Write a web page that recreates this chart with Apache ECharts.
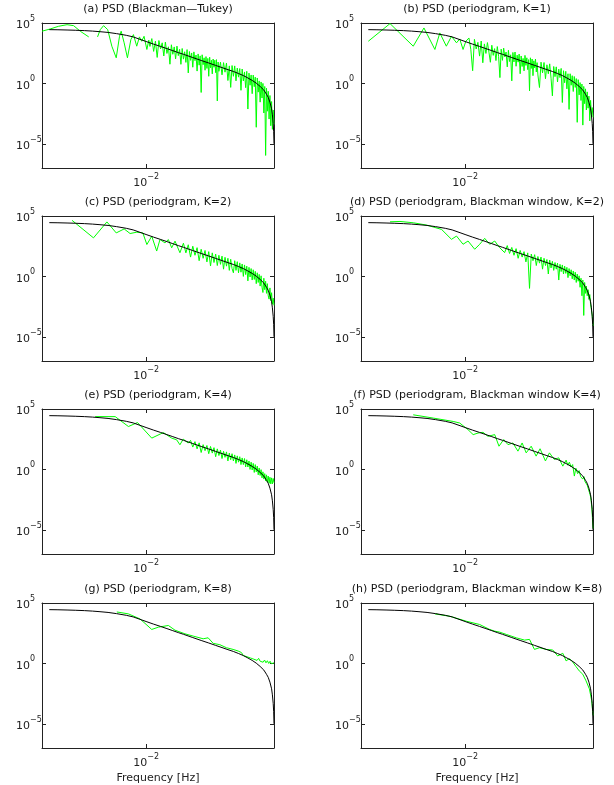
<!DOCTYPE html>
<html>
<head>
<meta charset="utf-8">
<title>PSD estimates</title>
<style>
  html, body { margin: 0; padding: 0; background: #fff; }
  #main { width: 614px; height: 785px; }
</style>
</head>
<body>
<div id="main"></div>
<script src="https://cdn.jsdelivr.net/npm/echarts@6/dist/echarts.min.js"></script>
<script>
// all series are [frequency in Hz, log10 of the PSD]; null = gap in the line

// true PSD (black), same in every panel
var truePsd = [
  [0.00296,4.45],[0.0033,4.44],[0.0037,4.42],[0.0041,4.40],[0.0046,4.37],[0.0051,4.33],[0.0056,4.28],
  [0.0062,4.22],[0.0069,4.12],[0.0078,3.98],[0.0085,3.85],[0.0095,3.59],[0.0100,3.47],[0.0110,3.25],
  [0.0120,3.06],[0.0130,2.88],[0.0140,2.71],[0.0150,2.55],[0.0160,2.41],[0.0180,2.14],[0.0200,1.90],
  [0.0220,1.69],[0.0240,1.49],[0.0260,1.31],[0.0280,1.14],[0.0300,0.99],[0.0320,0.82],[0.0340,0.65],
  [0.0360,0.45],[0.0380,0.25],[0.0400,0.02],[0.0420,-0.25],[0.0440,-0.55],[0.0455,-0.90],[0.0465,-1.15],
  [0.0475,-1.55],[0.0485,-2.1],[0.0490,-2.6],[0.0495,-3.3],[0.0498,-4.0],[0.0500,-5.0]
];

// (a) Blackman-Tukey
var estA = [
  [0.0027,4.32],[0.0030,4.51],[0.00333,4.73],[0.0037,4.86],[0.00402,4.78],[0.00437,4.32],[0.00486,3.85],
  [0.0051,null],[0.00543,3.85],[0.00562,4.45],[0.00586,4.78],[0.00617,4.45],[0.0065,3.08],[0.00687,2.12],
  [0.00716,3.90],[0.00731,4.32],[0.00759,3.36],[0.00791,2.12],[0.00826,3.63],[0.00853,4.04],[0.00889,3.08],
  [0.0092,3.85],[0.00946,3.49],[0.00975,3.90],[0.0101,2.81],[0.01035,3.58],
  [0.01050,3.06],[0.01075,3.71],[0.01100,2.65],[0.01125,3.50],[0.01150,2.15],[0.01175,3.55],[0.01200,2.86],
  [0.01225,3.36],[0.01250,2.27],[0.01275,3.42],[0.01300,2.48],[0.01325,3.03],[0.01350,1.59],[0.01375,3.20],
  [0.01400,2.41],[0.01425,3.02],[0.01450,2.03],[0.01475,3.09],[0.01500,2.30],[0.01525,2.82],[0.01550,1.58],
  [0.01575,2.89],[0.01600,2.01],[0.01625,2.62],[0.01650,1.74],[0.01675,2.80],[0.01700,0.87],[0.01725,2.64],
  [0.01750,1.91],[0.01775,2.52],[0.01800,1.34],[0.01825,2.61],[0.01850,1.88],[0.01875,2.35],[0.01900,1.02],
  [0.01925,2.44],[0.01950,1.51],[0.01975,2.28],[0.02000,-0.75],[0.02025,2.37],[0.02050,1.55],[0.02075,2.12],
  [0.02100,1.09],[0.02125,2.22],[0.02150,1.24],[0.02175,2.07],[0.02200,0.59],[0.02225,2.17],[0.02250,1.29],
  [0.02275,1.92],[0.02300,0.79],[0.02325,2.02],[0.02350,1.34],[0.02375,1.92],[0.02400,0.89],[0.02425,1.97],
  [0.02450,-1.45],[0.02475,1.77],[0.02500,1.00],
  [0.0255,1.76],[0.0260,0.71],[0.0265,1.72],[0.0270,0.93],[0.0275,1.69],[0.0280,0.24],[0.0285,1.45],[0.0290,-0.33],
  [0.0295,1.48],[0.0300,0.59],[0.0305,1.45],[0.0310,0.21],[0.0315,1.27],[0.0320,0.52],[0.0325,1.23],[0.0330,-0.57],
  [0.0335,1.19],[0.0340,0.20],[0.0345,0.95],[0.0350,-0.35],[0.0355,1.00],[0.0360,-2.12],[0.0365,0.85],[0.0370,-0.15],
  [0.0375,0.70],[0.0380,-0.85],[0.0385,0.69],[0.0390,-0.27],[0.0395,0.52],[0.0400,-3.63],[0.0405,0.45],[0.0410,-0.72],
  [0.0415,0.21],[0.0420,-1.55],[0.0425,0.12],[0.0430,-1.21],[0.0435,0.00],[0.0440,-2.45],[0.0445,-0.25],[0.0450,-5.96],
  [0.0455,-0.40],[0.0460,-2.3],[0.0465,-0.65],[0.0470,-2.95],[0.0475,-1.0],[0.0480,-3.5],[0.0485,-1.5],[0.0490,-3.8],
  [0.0495,-2.2],[0.0500,-3.4]
];

// (b) periodogram, K=1
var estB = [
  [0.00296,3.49],[0.00389,4.95],[0.00521,3.08],[0.00596,4.59],[0.00684,2.81],[0.00728,4.18],[0.0079,3.08],
  [0.00843,3.9],[0.00898,3.36],[0.00935,3.68],[0.00975,2.81],[0.0101,3.49],
  [0.01050,3.76],[0.01075,2.81],[0.01100,1.05],[0.01125,3.65],[0.01150,2.85],[0.01175,3.40],[0.01200,2.26],
  [0.01225,3.51],[0.01250,1.71],[0.01275,3.27],[0.01300,2.48],[0.01325,3.38],[0.01350,2.59],[0.01375,1.75],
  [0.01400,3.16],[0.01425,2.32],[0.01450,2.88],[0.01475,1.89],[0.01500,3.05],[0.01525,2.22],[0.01550,0.48],
  [0.01575,2.84],[0.01600,1.91],[0.01625,2.92],[0.01650,2.19],[0.01675,2.60],[0.01700,1.37],[0.01725,2.74],
  [0.01750,1.81],[0.01775,2.37],[0.01800,0.21],[0.01825,2.56],[0.01850,1.78],[0.01875,2.60],[0.01900,1.42],
  [0.01925,2.34],[0.01950,1.76],[0.01975,2.43],[0.02000,0.80],[0.02025,2.27],[0.02050,1.40],[0.02075,2.07],
  [0.02100,1.04],[0.02125,2.32],[0.02150,1.49],[0.02175,2.12],[0.02200,1.14],[0.02225,1.97],[0.02250,-0.62],
  [0.02275,2.12],[0.02300,1.24],[0.02325,2.02],[0.02350,0.64],[0.02375,1.87],[0.02400,1.29],[0.02425,2.02],
  [0.02450,0.95],[0.02475,1.72],[0.02500,0.70],
  [0.0255,-0.34],[0.0260,1.76],[0.0265,0.87],[0.0270,1.73],[0.0275,0.39],[0.0280,1.54],[0.0285,0.80],[0.0290,1.62],
  [0.0295,0.43],[0.0300,-1.03],[0.0305,1.40],[0.0310,0.56],[0.0315,1.37],[0.0320,0.12],[0.0325,1.18],[0.0330,0.48],
  [0.0335,1.24],[0.0340,-1.58],[0.0345,1.05],[0.0350,0.05],[0.0355,1.00],[0.0360,-0.45],[0.0365,0.80],[0.0370,-2.15],
  [0.0375,0.80],[0.0380,-0.15],[0.0385,0.64],[0.0390,-0.67],[0.0395,0.57],[0.0400,-0.33],[0.0405,0.40],[0.0410,-3.22],
  [0.0415,0.31],[0.0420,-0.95],[0.0425,0.07],[0.0430,-1.41],[0.0435,-0.05],[0.0440,-3.45],[0.0445,-0.25],[0.0450,-1.68],
  [0.0455,-0.45],[0.0460,-2.2],[0.0465,-0.70],[0.0470,-2.05],[0.0475,-1.05],[0.0480,-3.1],[0.0485,-1.4],[0.0490,-2.6],
  [0.0495,-2.0],[0.0500,-2.8]
];

// (c) periodogram, K=2
var estC = [
  [0.00394,4.64],[0.00516,3.19],[0.00611,4.51],[0.00687,3.60],[0.00759,3.93],[0.00818,3.55],[0.00889,3.66],
  [0.0096,3.60],[0.0101,2.64],[0.01074,3.33],[0.01143,2.10],[0.01191,3.05],[0.01268,2.78],[0.01324,3.05],
  [0.0138,2.37],[0.01439,2.92],[0.01531,1.96],
  [0.0160,2.75],[0.0165,1.95],[0.0170,2.62],[0.0175,1.6],[0.0180,2.5],[0.0185,1.75],[0.0190,2.38],[0.0195,1.3],
  [0.0200,2.25],[0.0205,1.5],[0.0210,2.15],[0.0215,1.2],[0.0220,2.05],[0.0225,0.86],[0.0230,1.95],[0.0235,1.15],
  [0.0240,1.85],[0.0245,0.9],[0.0250,1.75],[0.0255,1.0],[0.0260,1.68],[0.0265,0.6],[0.0270,1.58],[0.0275,0.85],
  [0.0280,1.5],[0.0285,0.5],[0.0290,1.42],[0.0295,0.65],[0.0300,0.3],[0.0305,1.3],[0.0310,0.5],[0.0315,1.22],
  [0.0320,0.3],[0.0325,1.12],[0.0330,0.35],[0.0335,1.03],[0.0340,0.0],[0.0345,0.95],[0.0350,0.15],[0.0355,0.85],
  [0.0360,-0.37],[0.0365,0.75],[0.0370,-0.05],[0.0375,0.65],[0.0380,-0.3],[0.0385,0.55],[0.0390,-0.25],[0.0395,0.42],
  [0.0400,-0.6],[0.0405,0.3],[0.0410,-0.5],[0.0415,0.17],[0.0420,-0.8],[0.0425,0.05],[0.0430,-0.9],[0.0435,-1.33],
  [0.0440,-0.15],[0.0445,-1.1],[0.0450,-0.4],[0.0455,-1.4],[0.0460,-0.6],[0.0465,-1.6],[0.0470,-1.88],[0.0475,-0.95],
  [0.0480,-2.0],[0.0485,-1.35],[0.0490,-2.3],[0.0495,-1.8],[0.0500,-2.4]
];

// (d) periodogram, Blackman window, K=2
var estD = [
  [0.00389,4.52],[0.00441,4.55],[0.00521,4.44],[0.00616,4.25],[0.00744,3.89],[0.00843,3.07],[0.00898,3.34],
  [0.00975,2.66],[0.01038,2.93],[0.01129,2.25],[0.01202,2.66],[0.0128,3.15],[0.01363,2.66],[0.01452,2.93],
  [0.01545,2.38],[0.01645,1.97],
  [0.0170,2.55],[0.0175,1.9],[0.0180,2.4],[0.0185,1.75],[0.0190,2.3],[0.0195,1.5],[0.0200,2.15],[0.0205,1.6],
  [0.0210,2.05],[0.0215,1.2],[0.0220,1.95],[0.0225,-0.99],[0.0230,1.85],[0.0235,1.3],[0.0240,1.8],[0.0245,0.9],
  [0.0250,1.65],[0.0255,1.1],[0.0260,1.6],[0.0265,0.6],[0.0270,1.5],[0.0275,0.9],[0.0280,1.4],[0.0285,0.2],
  [0.0290,1.35],[0.0295,0.7],[0.0300,1.25],[0.0305,0.5],[0.0310,1.15],[0.0315,0.6],[0.0320,1.1],[0.0325,-0.3],
  [0.0330,1.0],[0.0335,0.4],[0.0340,0.95],[0.0345,0.2],[0.0350,0.85],[0.0355,0.25],[0.0360,0.75],[0.0365,-0.1],
  [0.0370,0.65],[0.0375,0.05],[0.0380,0.55],[0.0385,-0.2],[0.0390,0.45],[0.0395,-0.3],[0.0400,0.35],[0.0405,-0.5],
  [0.0410,0.2],[0.0415,-0.4],[0.0420,0.05],[0.0425,-0.9],[0.0430,-0.15],[0.0435,-1.6],[0.0440,-0.3],[0.0445,-3.23],
  [0.0450,-0.5],[0.0455,-1.4],[0.0460,-0.8],[0.0465,-1.6],[0.0470,-1.1],[0.0475,-1.9],[0.0480,-1.5],[0.0485,-2.3],
  [0.0490,-2.4],[0.0495,-3.2],[0.0500,-4.1]
];

// (e) periodogram, K=4
var estE = [
  [0.00527,4.37],[0.00678,4.37],[0.00801,3.55],[0.00898,3.88],[0.01074,2.59],[0.01242,3.05],[0.0138,2.59],
  [0.01469,2.45],[0.01531,2.04],[0.01596,2.51],[0.01698,2.18],
  [0.0175,2.4],[0.0180,1.85],[0.0185,2.3],[0.0190,1.7],[0.0195,2.2],[0.0200,1.4],[0.0205,2.05],[0.0210,1.55],
  [0.0215,1.98],[0.0220,1.3],[0.0225,1.9],[0.0230,1.35],[0.0235,1.8],[0.0240,1.05],[0.0245,1.7],[0.0250,1.15],
  [0.0255,1.6],[0.0260,0.9],[0.0265,1.5],[0.0270,1.0],[0.0275,1.45],[0.0280,0.7],[0.0285,1.35],[0.0290,0.8],
  [0.0295,1.3],[0.0300,0.7],[0.0305,1.2],[0.0310,0.5],[0.0315,1.12],[0.0320,0.6],[0.0325,1.05],[0.0330,0.4],
  [0.0335,0.95],[0.0340,0.4],[0.0345,0.9],[0.0350,0.2],[0.0355,0.8],[0.0360,0.2],[0.0365,0.7],[0.0370,0.0],
  [0.0375,0.6],[0.0380,-0.05],[0.0385,0.5],[0.0390,-0.25],[0.0395,0.4],[0.0400,-0.2],[0.0405,0.28],[0.0410,-0.45],
  [0.0415,0.12],[0.0420,-0.5],[0.0425,-0.02],[0.0430,-0.7],[0.0435,-0.2],[0.0440,-0.8],[0.0445,-0.35],[0.0450,-0.95],
  [0.0455,-0.45],[0.0460,-1.05],[0.0465,-0.55],[0.0470,-1.15],[0.0475,-0.65],[0.0480,-1.2],[0.0485,-0.7],[0.0490,-1.2],
  [0.0495,-0.75],[0.0500,-1.1]
];

// (f) periodogram, Blackman window, K=4
var estF = [
  [0.00521,4.52],[0.0067,4.25],[0.00861,3.97],[0.00935,3.84],[0.01038,3.29],[0.01107,2.88],[0.01178,3.01],
  [0.01253,3.07],[0.01334,2.74],[0.01452,2.88],[0.01532,1.92],[0.01626,2.47],[0.01716,2.05],[0.01825,2.19],
  [0.01945,1.51],[0.0205,2.19],[0.02158,1.37],[0.02297,1.92],[0.02445,1.10],[0.02569,1.71],[0.02748,0.70],
  [0.0289,1.37],[0.03076,0.82],[0.03248,0.96],[0.0342,0.27],[0.03565,0.77],[0.0364,0.35],[0.03715,0.6],
  [0.03793,0.2],[0.0387,0.4],[0.03954,-0.55],[0.0403,0.1],[0.0412,-0.35],[0.0420,-0.1],[0.0428,-0.6],
  [0.0436,-0.45],[0.04395,-0.8],[0.0446,-0.6],[0.0452,-1.0],[0.0458,-0.85],[0.0465,-1.3],[0.0472,-1.4],
  [0.0478,-1.9],[0.0486,-2.3],[0.0493,-3.2],[0.0500,-4.9]
];

// (g) periodogram, K=8
var estG = [
  [0.00692,4.26],[0.00801,4.10],[0.00927,3.68],[0.01074,2.81],[0.01167,3.0],[0.01324,3.14],[0.01439,2.75],
  [0.01631,2.45],[0.01811,2.26],[0.02051,2.04],[0.02183,2.12],[0.02327,1.66],[0.0253,1.55],[0.02749,1.30],
  [0.02987,1.16],[0.03182,1.03],[0.0332,0.90],[0.0340,0.65],[0.0348,0.78],[0.0356,0.55],[0.0364,0.68],
  [0.0372,0.45],[0.0380,0.58],[0.0388,0.35],[0.0396,0.50],[0.0404,0.25],[0.0412,0.42],[0.0420,0.18],
  [0.0428,0.33],[0.0436,0.10],[0.0444,0.28],[0.0452,0.05],[0.0460,0.22],[0.0468,0.00],[0.0476,0.18],
  [0.0484,-0.02],[0.0492,0.14],[0.0500,0.05]
];

// (h) periodogram, Blackman window, K=8
var estH = [
  [0.00684,4.10],[0.00826,3.90],[0.01017,3.49],[0.01202,3.22],[0.01363,2.81],[0.01452,2.67],[0.01545,2.59],
  [0.0168,2.40],[0.01905,2.12],[0.02115,1.93],[0.02249,1.99],[0.02393,1.16],[0.02551,1.30],[0.02773,1.16],
  [0.03015,1.11],[0.03207,0.62],[0.0342,0.84],[0.03565,0.21],[0.03715,0.40],[0.03873,0.12],[0.04036,-0.26],
  [0.04206,-0.62],[0.04395,-0.89],[0.0458,-1.44],[0.0478,-2.12],[0.0492,-3.08],[0.0500,-4.3]
];

var panelTitles = [
  '(a) PSD (Blackman\u2014Tukey)',
  '(b) PSD (periodgram, K=1)',
  '(c) PSD (periodgram, K=2)',
  '(d) PSD (periodgram, Blackman window, K=2)',
  '(e) PSD (periodgram, K=4)',
  '(f) PSD (periodgram, Blackman window K=4)',
  '(g) PSD (periodgram, K=8)',
  '(h) PSD (periodgram, Blackman window K=8)'
];
var estimates = [estA, estB, estC, estD, estE, estF, estG, estH];
var xTickExps = [-2];
var yTickExps = [5, 0, -5];
var xLabel = 'Frequency [Hz]';

var FONT = 'DejaVu Sans';
var INK = '#222';
var colLeft = [42, 361];
var rowTop = [23, 216, 409, 603];
var plotW = 232, plotH = 145;

function toPoints(pairs) {
  return pairs.map(function (p) {
    return [p[0], p[1] === null ? '-' : Math.pow(10, p[1])];
  });
}

function powLabel(v, exps) {
  var l = Math.log10(v), e = Math.round(l);
  if (Math.abs(l - e) > 1e-6 || exps.indexOf(e) < 0) return '';
  return '{b|10}{s|' + (e < 0 ? '\u2212' + (-e) : e) + '}';
}

var rich = {
  b: { fontFamily: FONT, fontSize: 11, color: INK, lineHeight: 16, verticalAlign: 'bottom' },
  s: { fontFamily: FONT, fontSize: 8, color: INK, lineHeight: 9, verticalAlign: 'top' }
};

var lineCfg = { show: true, onZero: false, lineStyle: { color: INK, width: 1 } };
var tickCfg = { show: true, inside: true, length: 4, lineStyle: { color: INK, width: 1 } };

var grids = [], xAxes = [], yAxes = [], series = [], titles = [];

panelTitles.forEach(function (t, i) {
  var col = i % 2, row = Math.floor(i / 2);
  grids.push({ left: colLeft[col], top: rowTop[row], width: plotW, height: plotH });

  titles.push({
    text: t, left: colLeft[col] + plotW / 2, top: rowTop[row] - 19, textAlign: 'center', padding: 0,
    textStyle: { fontFamily: FONT, fontSize: 11, fontWeight: 'normal', color: '#111' }
  });

  var xBase = {
    type: 'log', logBase: 10, gridIndex: i, min: 0.0027, max: 0.05,
    axisLine: lineCfg, axisTick: tickCfg, splitLine: { show: false }, minorTick: { show: false }
  };
  xAxes.push(Object.assign({}, xBase, {
    position: 'bottom',
    name: row === 3 ? xLabel : '', nameLocation: 'middle', nameGap: 25,
    nameTextStyle: { fontFamily: FONT, fontSize: 11, color: INK },
    axisLabel: {
      margin: 5, showMinLabel: false, showMaxLabel: false, rich: rich,
      formatter: function (v) { return powLabel(v, xTickExps); }
    }
  }));
  xAxes.push(Object.assign({}, xBase, { position: 'top', axisLabel: { show: false } }));

  var yBase = {
    type: 'log', logBase: 100000, gridIndex: i, min: 1e-7, max: 1e5,
    axisLine: lineCfg, axisTick: tickCfg, splitLine: { show: false }, minorTick: { show: false }
  };
  yAxes.push(Object.assign({}, yBase, {
    position: 'left',
    axisLabel: {
      align: 'left', margin: 26, rich: rich,
      formatter: function (v) { return powLabel(v, yTickExps); }
    }
  }));
  yAxes.push(Object.assign({}, yBase, { position: 'right', axisLabel: { show: false } }));

  series.push({
    type: 'line', xAxisIndex: 2 * i, yAxisIndex: 2 * i, data: toPoints(estimates[i]),
    showSymbol: false, symbol: 'none', connectNulls: false, silent: true, z: 2,
    lineStyle: { color: '#00ff00', width: 1 }
  });
  series.push({
    type: 'line', xAxisIndex: 2 * i, yAxisIndex: 2 * i, data: toPoints(truePsd),
    showSymbol: false, symbol: 'none', silent: true, z: 3,
    lineStyle: { color: '#000', width: 1 }
  });
});

var chart = echarts.init(document.getElementById('main'));
chart.setOption({
  animation: false,
  backgroundColor: '#fff',
  title: titles,
  grid: grids,
  xAxis: xAxes,
  yAxis: yAxes,
  series: series
});
</script>
</body>
</html>
